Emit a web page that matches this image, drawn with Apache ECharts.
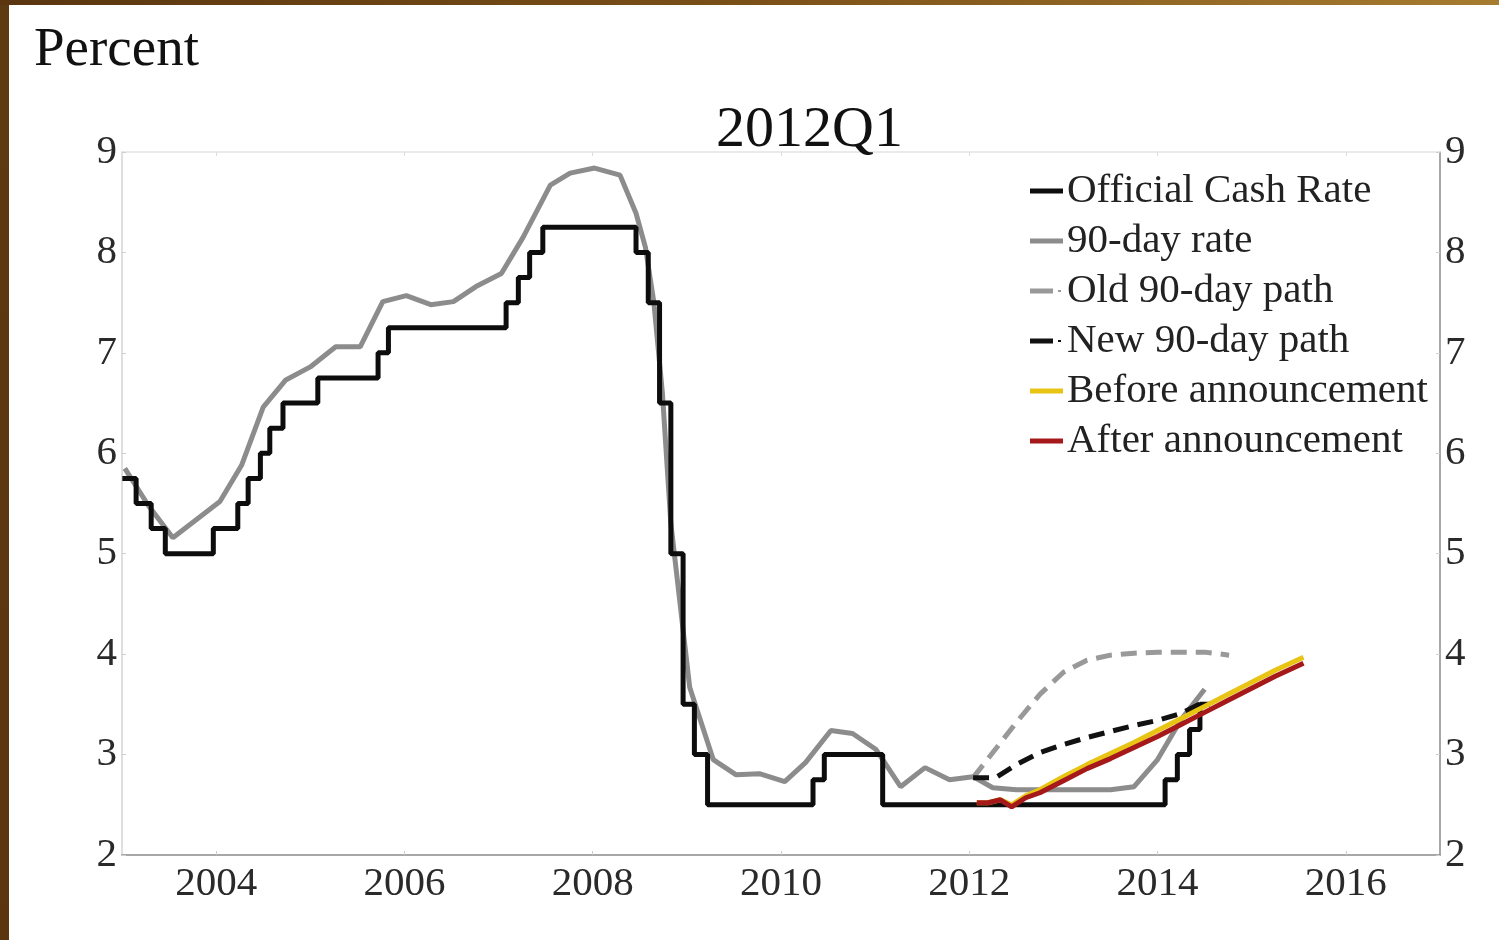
<!DOCTYPE html>
<html>
<head>
<meta charset="utf-8">
<script src="https://cdn.jsdelivr.net/npm/echarts@6/dist/echarts.min.js"></script>
<style>
html,body{margin:0;padding:0;background:#fff;}
#frameL{position:absolute;left:0;top:0;width:9px;height:940px;background:linear-gradient(180deg,#5e3a12,#5a3510);}
#frameT{position:absolute;left:0;top:0;width:1499px;height:5px;background:linear-gradient(90deg,#5a3510 0%,#7a5018 50%,#a67c30 100%);}
#chart{position:absolute;left:0;top:0;width:1499px;height:940px;}
</style>
</head>
<body>
<div id="chart"></div>
<div id="frameL"></div>
<div id="frameT"></div>
<script>
// ---- data ----
const xTickLabels = [2004, 2006, 2008, 2010, 2012, 2014, 2016];
const yTickLabels = [2, 3, 4, 5, 6, 7, 8, 9];

// Official Cash Rate: [date, value from this date on]
const ocr = [
  [2003.03,5.75],[2003.15,5.5],[2003.31,5.25],[2003.46,5.0],[2003.97,5.25],[2004.23,5.5],
  [2004.34,5.75],[2004.47,6.0],[2004.57,6.25],[2004.71,6.5],[2005.08,6.75],[2005.72,7.0],
  [2005.83,7.25],[2007.08,7.5],[2007.21,7.75],[2007.33,8.0],[2007.47,8.25],[2008.46,8.0],
  [2008.59,7.5],[2008.71,6.5],[2008.83,5.0],[2008.96,3.5],[2009.08,3.0],[2009.22,2.5],
  [2010.34,2.75],[2010.46,3.0],[2011.08,2.5],[2014.08,2.75],[2014.21,3.0],[2014.34,3.25],
  [2014.45,3.5],[2014.53,3.5]
];

const rate90 = [
  [2003.03,5.85],[2003.28,5.48],[2003.54,5.16],[2004.04,5.52],[2004.27,5.88],[2004.5,6.46],
  [2004.74,6.73],[2005.0,6.86],[2005.27,7.06],[2005.53,7.06],[2005.77,7.51],[2006.02,7.57],
  [2006.28,7.48],[2006.52,7.51],[2006.76,7.66],[2007.03,7.79],[2007.26,8.15],[2007.55,8.67],
  [2007.76,8.79],[2008.02,8.84],[2008.29,8.77],[2008.46,8.39],[2008.56,8.05],[2008.65,7.5],
  [2008.74,6.6],[2008.83,5.3],[2009.03,3.67],[2009.28,2.95],[2009.52,2.8],[2009.77,2.81],
  [2010.04,2.73],[2010.26,2.92],[2010.53,3.24],[2010.76,3.21],[2011.01,3.05],[2011.27,2.68],
  [2011.53,2.87],[2011.79,2.75],[2012.04,2.78],[2012.25,2.67],[2012.5,2.65],[2012.75,2.65],
  [2013.0,2.65],[2013.25,2.65],[2013.5,2.65],[2013.75,2.68],[2014.0,2.95],[2014.25,3.35],
  [2014.5,3.65]
];

const oldPath = [
  [2012.04,2.77],[2012.25,3.02],[2012.5,3.32],[2012.75,3.6],[2013.0,3.82],[2013.25,3.94],
  [2013.5,3.99],[2013.75,4.01],[2014.0,4.02],[2014.25,4.02],[2014.5,4.02],[2014.76,3.99]
];

const newPath = [
  [2012.04,2.77],[2012.28,2.77],[2012.5,2.9],[2012.75,3.02],[2013.0,3.1],[2013.25,3.17],
  [2013.5,3.23],[2013.75,3.29],[2014.0,3.34],[2014.25,3.41],[2014.48,3.52]
];

const beforeAnn = [
  [2012.08,2.52],[2012.2,2.52],[2012.33,2.55],[2012.45,2.5],[2012.6,2.59],[2012.75,2.65],
  [2013.0,2.78],[2013.25,2.9],[2013.5,3.01],[2013.75,3.12],[2014.0,3.24],[2014.25,3.36],
  [2014.5,3.48],[2014.75,3.6],[2015.0,3.72],[2015.25,3.84],[2015.55,3.97]
];

const afterAnn = [
  [2012.08,2.52],[2012.2,2.52],[2012.33,2.55],[2012.45,2.48],[2012.6,2.57],[2012.75,2.62],
  [2013.0,2.74],[2013.25,2.86],[2013.5,2.96],[2013.75,3.07],[2014.0,3.18],[2014.25,3.3],
  [2014.5,3.42],[2014.75,3.54],[2015.0,3.66],[2015.25,3.78],[2015.55,3.91]
];

const seriesNames = ['Official Cash Rate','90-day rate','Old 90-day path','New 90-day path','Before announcement','After announcement'];

// ---- chart ----
const FONT = "'Liberation Serif','DejaVu Serif',serif";
const DASH_ICON = 'path://M0,0 H23 V5 H0 Z M28,1.5 H31 V3.5 H28 Z M33,2.4 H33.01 V2.6 H33 Z';
const chart = echarts.init(document.getElementById('chart'), null, {renderer:'canvas'});

const yAxisCommon = {
  type:'value', min:2, max:9, interval:1,
  splitLine:{show:false},
  axisTick:{show:true, inside:true, length:4, lineStyle:{color:'#cfcfcf', width:1}},
  axisLabel:{fontFamily:FONT, fontSize:41, color:'#2a2a2a', margin:5}
};

chart.setOption({
  animation:false,
  backgroundColor:'#ffffff',
  title:[
    {text:'Percent', left:29, top:18, textStyle:{fontFamily:FONT, fontSize:55, fontWeight:'normal', color:'#111'}},
    {text:'2012Q1', left:711, top:97, textStyle:{fontFamily:FONT, fontSize:58, fontWeight:'normal', color:'#111'}}
  ],
  grid:{left:122, right:59, top:152, bottom:85, containLabel:false},
  legend:{
    orient:'vertical', left:1025, top:163,
    data:seriesNames.map(function(n){
      return (n.indexOf('path') >= 0) ? {name:n, icon:DASH_ICON} : {name:n};
    }),
    icon:'rect',
    itemWidth:33, itemHeight:5, itemGap:4,
    textStyle:{fontFamily:FONT, fontSize:41, color:'#222', lineHeight:46, padding:[0,0,0,-1]}
  },
  xAxis:[
    {
      type:'value', min:2003, max:2017, position:'bottom',
      splitLine:{show:false},
      axisLine:{show:true, lineStyle:{color:'#8a8a8a', width:1.5}},
      axisTick:{show:true, inside:true, length:4, customValues:xTickLabels, lineStyle:{color:'#cfcfcf'}},
      axisLabel:{customValues:xTickLabels, fontFamily:FONT, fontSize:41, color:'#2a2a2a', margin:9,
        formatter:function(v){return String(v);}}
    },
    {
      type:'value', min:2003, max:2017, position:'top',
      splitLine:{show:false},
      axisLine:{show:true, lineStyle:{color:'#e4e4e4', width:1.5}},
      axisTick:{show:true, inside:true, length:4, customValues:xTickLabels, lineStyle:{color:'#dcdcdc'}},
      axisLabel:{show:false}
    }
  ],
  yAxis:[
    Object.assign({}, yAxisCommon, {position:'left',
      axisLine:{show:true, lineStyle:{color:'#d4d4d4', width:1.5}}}),
    Object.assign({}, yAxisCommon, {position:'right',
      axisLine:{show:true, lineStyle:{color:'#8a8a8a', width:1.5}}})
  ],
  series:[
    {name:'90-day rate', type:'line', data:rate90, symbol:'none', z:2,
      lineStyle:{color:'#8c8c8c', width:5}, itemStyle:{color:'#8c8c8c'}},
    {name:'Old 90-day path', type:'line', data:oldPath, symbol:'none', z:3,
      lineStyle:{color:'#999999', width:5, type:[16,9]}, itemStyle:{color:'#999999'}},
    {name:'New 90-day path', type:'line', data:newPath, symbol:'none', z:4,
      lineStyle:{color:'#111111', width:5, type:[16,9]}, itemStyle:{color:'#111111'}},
    {name:'Official Cash Rate', type:'line', step:'end', data:ocr, symbol:'none', z:5,
      lineStyle:{color:'#0d0d0d', width:5, cap:'square'}, itemStyle:{color:'#0d0d0d'}},
    {name:'Before announcement', type:'line', data:beforeAnn, symbol:'none', z:6,
      lineStyle:{color:'#e8c414', width:5}, itemStyle:{color:'#e8c414'}},
    {name:'After announcement', type:'line', data:afterAnn, symbol:'none', z:7,
      lineStyle:{color:'#a5191b', width:5}, itemStyle:{color:'#a5191b'}}
  ]
});
</script>
</body>
</html>
